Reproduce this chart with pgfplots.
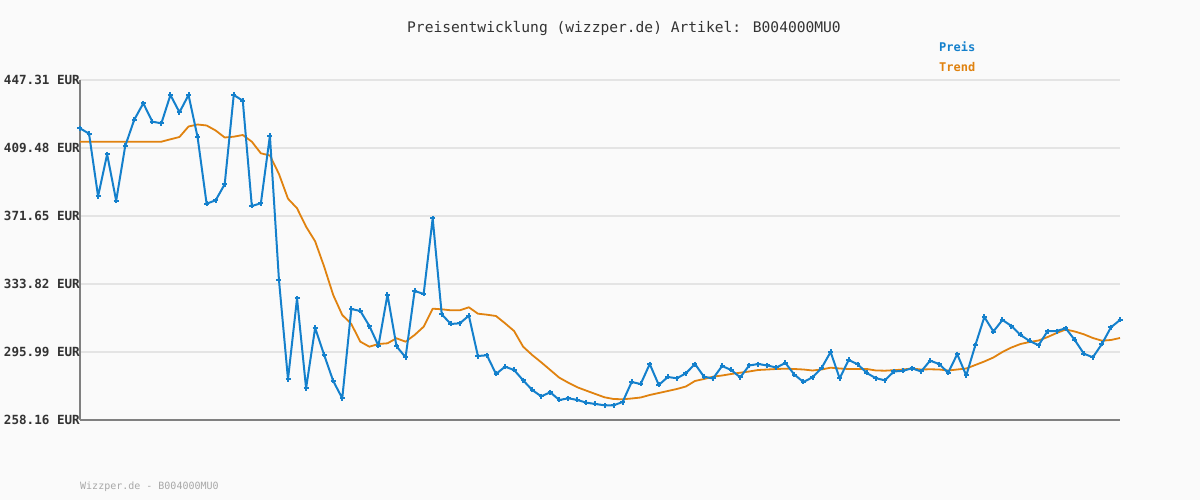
\documentclass[border=0pt]{standalone}
\usepackage{fontspec}
\setmainfont{DejaVu Sans Mono}
\usepackage{pgfplots}
\pgfplotsset{compat=1.18}
\definecolor{bg}{HTML}{FAFAFA}
\definecolor{preis}{HTML}{1480CC}
\definecolor{trend}{HTML}{E0820F}
\definecolor{gridc}{HTML}{E4E4E4}
\definecolor{axc}{HTML}{808080}
\definecolor{txt}{HTML}{333333}
\definecolor{foot}{HTML}{A8A8A8}
\begin{document}
\begin{tikzpicture}[x=1pt,y=1pt]
\fill[bg] (0,0) rectangle (1200,500);
\begin{axis}[at={(80pt,80pt)}, anchor=south west, scale only axis,
  width=1040pt, height=340pt,
  xmin=0, xmax=115, ymin=258.16, ymax=447.31,
  axis x line*=bottom, axis y line*=left,
  axis line style={axc, line width=2pt, -},
  every outer x axis line/.append style={-},
  every outer y axis line/.append style={-},
  xtick=\empty,
  ytick={258.16,295.99,333.82,371.65,409.48,447.31},
  yticklabels={258.16 EUR,295.99 EUR,333.82 EUR,371.65 EUR,409.48 EUR,447.31 EUR},
  yticklabel style={font=\fontsize{12.6}{13}\selectfont\bfseries, text=txt, anchor=east, inner sep=0pt},
  major tick length=0pt,
  ymajorgrids, grid style={gridc, line width=2pt},
  clip=false]
\addplot[trend, line width=1.8pt, line join=round, no markers] coordinates {
(0,412.99)(1,412.99)(2,412.99)(3,412.99)(4,412.99)(5,412.99)(6,412.99)(7,412.99)(8,412.99)(9,412.99)(10,414.32)(11,415.60)(12,421.44)(13,422.55)(14,422.00)(15,419.22)(16,415.32)(17,415.77)(18,416.71)(19,412.99)(20,406.53)(21,405.31)(22,395.02)(23,381.27)(24,375.94)(25,365.70)(26,357.58)(27,343.44)(28,327.70)(29,316.57)(30,311.57)(31,301.72)(32,298.94)(33,300.44)(34,300.83)(35,303.61)(36,301.72)(37,305.45)(38,310.06)(39,320.08)(40,319.74)(41,319.19)(42,319.19)(43,320.86)(44,317.30)(45,316.74)(46,316.02)(47,311.96)(48,307.67)(49,298.94)(50,294.32)(51,290.26)(52,285.98)(53,281.69)(54,278.91)(55,276.35)(56,274.46)(57,272.62)(58,270.79)(59,269.84)(60,269.68)(61,270.12)(62,270.68)(63,272.07)(64,273.18)(65,274.29)(66,275.41)(67,276.80)(68,279.86)(69,280.97)(70,282.25)(71,282.92)(72,283.75)(73,284.47)(74,285.14)(75,285.98)(76,286.25)(77,286.53)(78,286.70)(79,286.53)(80,286.25)(81,285.70)(82,286.25)(83,287.26)(84,286.81)(85,286.53)(86,286.53)(87,286.53)(88,285.70)(89,285.59)(90,285.86)(91,286.25)(92,286.81)(93,286.25)(94,286.37)(95,286.25)(96,285.70)(97,286.25)(98,286.81)(99,288.76)(100,290.71)(101,292.93)(102,295.99)(103,298.49)(104,300.44)(105,301.55)(106,302.39)(107,304.33)(108,306.56)(109,308.51)(110,307.39)(111,305.84)(112,303.78)(113,302.28)(114,302.67)(115,303.78)
};
\addplot[preis, line width=2pt, line join=round, mark=+, mark size=2.5pt, mark options={line width=2pt}] coordinates {
(0,420.44)(1,417.44)(2,382.61)(3,405.98)(4,380.16)(5,410.59)(6,425.22)(7,434.35)(8,424.11)(9,423.22)(10,438.97)(11,429.34)(12,438.97)(13,415.60)(14,378.49)(15,380.38)(16,389.29)(17,438.97)(18,435.79)(19,377.21)(20,378.72)(21,416.32)(22,336.05)(23,280.80)(24,325.86)(25,275.80)(26,309.34)(27,294.32)(28,279.86)(29,270.23)(30,319.91)(31,318.80)(32,310.45)(33,299.49)(34,327.87)(35,299.16)(36,293.04)(37,329.93)(38,328.26)(39,370.37)(40,316.96)(41,311.57)(42,311.96)(43,316.18)(44,293.76)(45,294.15)(46,283.75)(47,287.81)(48,285.98)(49,280.25)(50,274.85)(51,271.34)(52,273.57)(53,269.29)(54,270.23)(55,269.29)(56,267.78)(57,267.06)(58,266.34)(59,266.34)(60,268.17)(61,279.30)(62,278.19)(63,289.31)(64,277.63)(65,282.08)(66,281.36)(67,284.14)(68,289.31)(69,282.25)(70,281.25)(71,288.20)(72,285.98)(73,281.91)(74,288.48)(75,289.31)(76,288.48)(77,287.37)(78,289.87)(79,283.36)(80,279.30)(81,281.91)(82,287.09)(83,295.99)(84,281.36)(85,291.54)(86,289.15)(87,284.31)(88,281.41)(89,280.25)(90,285.14)(91,285.53)(92,286.92)(93,285.14)(94,291.15)(95,289.31)(96,284.47)(97,294.77)(98,282.92)(99,299.72)(100,315.46)(101,307.39)(102,313.79)(103,310.45)(104,305.45)(105,302.11)(106,299.77)(107,307.67)(108,307.67)(109,309.17)(110,302.67)(111,295.04)(112,293.04)(113,300.44)(114,309.73)(115,313.79)
};
\end{axis}
\node[text=txt, font=\fontsize{14.6}{16}\selectfont] at (624,472) {Preisentwicklung (wizzper.de) Artikel: B004000MU0};
\node[text=preis, font=\fontsize{12}{13}\selectfont\bfseries, anchor=west, inner sep=0pt] at (939,453) {Preis};
\node[text=trend, font=\fontsize{12}{13}\selectfont\bfseries, anchor=west, inner sep=0pt] at (939,433) {Trend};
\node[text=foot, font=\fontsize{10}{11}\selectfont, anchor=west, inner sep=0pt] at (80,13) {Wizzper.de - B004000MU0};
\end{tikzpicture}
\end{document}
